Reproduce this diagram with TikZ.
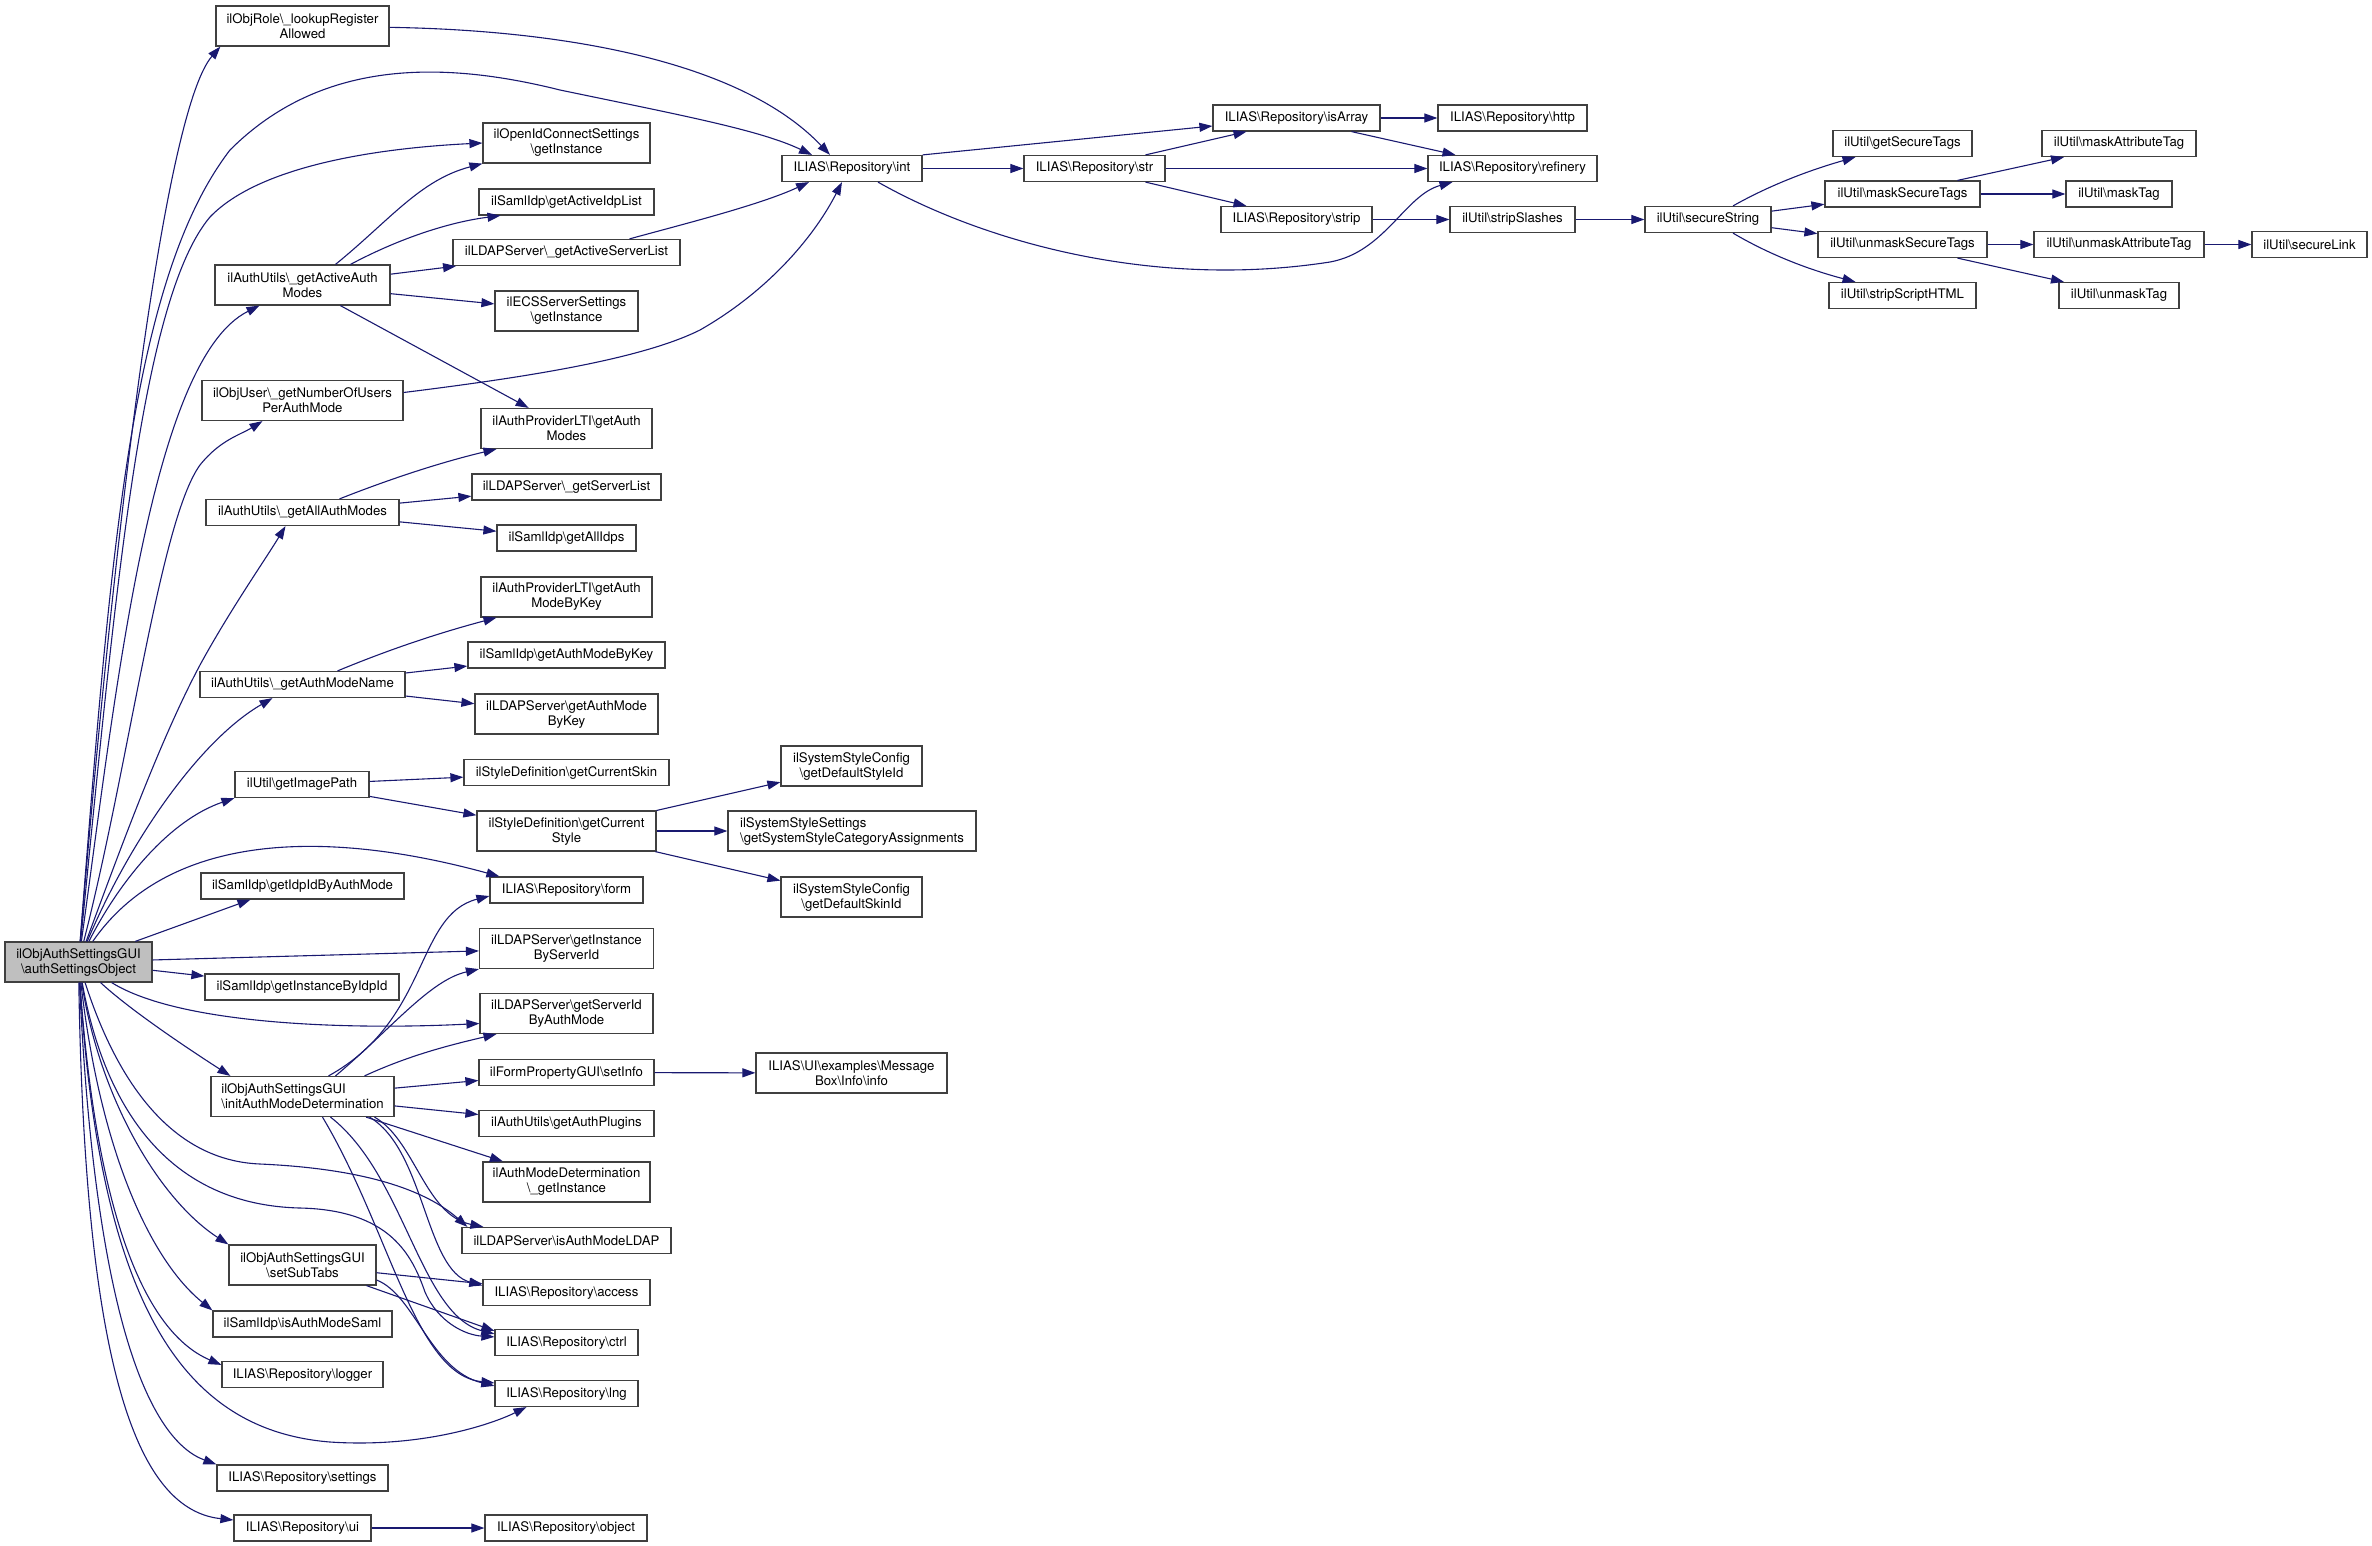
\documentclass[tikz,border=0pt]{standalone}
\usepackage{fontspec}
\setmainfont{TeX Gyre Heros}
\usetikzlibrary{arrows.meta}
\definecolor{edgeblue}{RGB}{25,25,112}
\definecolor{boxline}{RGB}{64,64,64}
\definecolor{mainfill}{RGB}{191,191,191}
\newcommand{\bsl}{\textbackslash}
\tikzset{
  fn/.style={draw=boxline, line width=1.2pt, fill=white, inner sep=0pt,
    minimum height=26pt, align=center, font=\fontsize{13.2}{15}\selectfont},
  fn2/.style={fn, minimum height=40pt},
  call/.style={draw=edgeblue, line width=1.1pt, -{Triangle[length=13pt,width=9pt]}},
}
\begin{document}
\begin{tikzpicture}[x=1pt,y=-1pt]
\useasboundingbox (0,0) rectangle (2372,1545);
% first column: the documented function
\node[fn2, fill=mainfill, minimum width=147] (auth) at (78.5,962) {ilObjAuthSettingsGUI\\\bsl authSettingsObject};
% second column
\node[fn2, minimum width=173] (role) at (302.5,26) {ilObjRole\bsl\_lookupRegister\\Allowed};
\node[fn2, minimum width=175] (actmodes) at (302.5,285) {ilAuthUtils\bsl\_getActiveAuth\\Modes};
\node[fn2, minimum width=201] (nusers) at (302.5,400.5) {ilObjUser\bsl\_getNumberOfUsers\\PerAuthMode};
\node[fn, minimum width=193] (allmodes) at (302.5,512.5) {ilAuthUtils\bsl\_getAllAuthModes};
\node[fn, minimum width=205] (modename) at (302.5,684.5) {ilAuthUtils\bsl\_getAuthModeName};
\node[fn, minimum width=134] (imgpath) at (302,784.5) {ilUtil\bsl getImagePath};
\node[fn, minimum width=203] (idpbymode) at (302.5,886) {ilSamlIdp\bsl getIdpIdByAuthMode};
\node[fn, minimum width=194] (instidp) at (302,987) {ilSamlIdp\bsl getInstanceByIdpId};
\node[fn2, minimum width=183, align=left] (initdet) at (302.5,1096.5) {ilObjAuthSettingsGUI\\\bsl initAuthModeDetermination};
\node[fn2, minimum width=147] (subtabs) at (302.5,1265) {ilObjAuthSettingsGUI\\\bsl setSubTabs};
\node[fn, minimum width=179] (issaml) at (302.5,1324) {ilSamlIdp\bsl isAuthModeSaml};
\node[fn, minimum width=161] (logger) at (302.5,1374.5) {ILIAS\bsl Repository\bsl logger};
\node[fn, minimum width=171] (settings) at (302.5,1478) {ILIAS\bsl Repository\bsl settings};
\node[fn, minimum width=137] (ui) at (302.5,1528) {ILIAS\bsl Repository\bsl ui};
% third column
\node[fn2, minimum width=167] (oidc) at (566.5,143) {ilOpenIdConnectSettings\\\bsl getInstance};
\node[fn, minimum width=175] (idplist) at (566.5,202) {ilSamlIdp\bsl getActiveIdpList};
\node[fn, minimum width=227] (actsrv) at (566.5,252.5) {ilLDAPServer\bsl\_getActiveServerList};
\node[fn2, minimum width=143] (ecs) at (566.5,311) {ilECSServerSettings\\\bsl getInstance};
\node[fn2, minimum width=171] (ltimodes) at (566.5,428.5) {ilAuthProviderLTI\bsl getAuth\\Modes};
\node[fn, minimum width=189] (srvlist) at (566.5,487) {ilLDAPServer\bsl\_getServerList};
\node[fn, minimum width=139] (allidps) at (566.5,538) {ilSamlIdp\bsl getAllIdps};
\node[fn2, minimum width=171] (ltikey) at (566.5,597) {ilAuthProviderLTI\bsl getAuth\\ModeByKey};
\node[fn, minimum width=197] (samlkey) at (566.5,655) {ilSamlIdp\bsl getAuthModeByKey};
\node[fn2, minimum width=183] (ldapkey) at (566.5,714) {ilLDAPServer\bsl getAuthMode\\ByKey};
\node[fn, minimum width=205] (curskin) at (566.5,772.5) {ilStyleDefinition\bsl getCurrentSkin};
\node[fn2, minimum width=179] (curstyle) at (566.5,831) {ilStyleDefinition\bsl getCurrent\\Style};
\node[fn, minimum width=153] (form) at (566.5,890) {ILIAS\bsl Repository\bsl form};
\node[fn2, minimum width=174] (instsrv) at (566.5,948.5) {ilLDAPServer\bsl getInstance\\ByServerId};
\node[fn2, minimum width=173] (srvid) at (566.5,1013.5) {ilLDAPServer\bsl getServerId\\ByAuthMode};
\node[fn, minimum width=175] (setinfo) at (566.5,1072.5) {ilFormPropertyGUI\bsl setInfo};
\node[fn, minimum width=175] (plugins) at (566.5,1123.5) {ilAuthUtils\bsl getAuthPlugins};
\node[fn2, minimum width=167] (detinst) at (566.5,1182) {ilAuthModeDetermination\\\bsl\_getInstance};
\node[fn, minimum width=209] (isldap) at (566.5,1240.5) {ilLDAPServer\bsl isAuthModeLDAP};
\node[fn, minimum width=167] (access) at (566.5,1292.5) {ILIAS\bsl Repository\bsl access};
\node[fn, minimum width=143] (ctrl) at (566.5,1342.5) {ILIAS\bsl Repository\bsl ctrl};
\node[fn, minimum width=143] (lng) at (566.5,1393.5) {ILIAS\bsl Repository\bsl lng};
\node[fn, minimum width=162] (object) at (566,1528) {ILIAS\bsl Repository\bsl object};
% further columns
\node[fn, minimum width=140] (int) at (852,168.5) {ILIAS\bsl Repository\bsl int};
\node[fn2, minimum width=141] (styleid) at (851.5,766) {ilSystemStyleConfig\\\bsl getDefaultStyleId};
\node[fn2, minimum width=248, align=left] (catassign) at (852,831) {ilSystemStyleSettings\\\bsl getSystemStyleCategoryAssignments};
\node[fn2, minimum width=141] (skinid) at (851.5,897) {ilSystemStyleConfig\\\bsl getDefaultSkinId};
\node[fn2, minimum width=191] (msgbox) at (851.5,1073) {ILIAS\bsl UI\bsl examples\bsl Message\\Box\bsl Info\bsl info};
\node[fn, minimum width=141] (str) at (1094.5,168.5) {ILIAS\bsl Repository\bsl str};
\node[fn, minimum width=167] (isarray) at (1296.5,118) {ILIAS\bsl Repository\bsl isArray};
\node[fn, minimum width=151] (strip) at (1296.5,219.5) {ILIAS\bsl Repository\bsl strip};
\node[fn, minimum width=149] (http) at (1512.5,118) {ILIAS\bsl Repository\bsl http};
\node[fn, minimum width=169] (refinery) at (1512.5,168.5) {ILIAS\bsl Repository\bsl refinery};
\node[fn, minimum width=125] (slashes) at (1512.5,219.5) {ilUtil\bsl stripSlashes};
\node[fn, minimum width=126] (securestr) at (1708,219.5) {ilUtil\bsl secureString};
\node[fn, minimum width=139] (gettags) at (1902.5,143.5) {ilUtil\bsl getSecureTags};
\node[fn, minimum width=155] (masktags) at (1902.5,194) {ilUtil\bsl maskSecureTags};
\node[fn, minimum width=169] (unmasktags) at (1902.5,244.5) {ilUtil\bsl unmaskSecureTags};
\node[fn, minimum width=147] (stripscript) at (1902.5,295.5) {ilUtil\bsl stripScriptHTML};
\node[fn, minimum width=154] (maskattr) at (2119,143.5) {ilUtil\bsl maskAttributeTag};
\node[fn, minimum width=106] (masktag) at (2119,194) {ilUtil\bsl maskTag};
\node[fn, minimum width=170] (unmaskattr) at (2119,244.5) {ilUtil\bsl unmaskAttributeTag};
\node[fn, minimum width=115] (securelink) at (2309.5,244.5) {ilUtil\bsl secureLink};
\node[fn, minimum width=120] (unmasktag) at (2119,295.5) {ilUtil\bsl unmaskTag};
% calls of authSettingsObject
\draw[call] (auth) .. controls (115,520) and (165,110) .. ([xshift=5]role.south west);
\draw[call] (auth) .. controls (110,560) and (130,280) .. (230,150) .. controls (320,60) and (440,60) .. (560,90) .. controls (680,115) and (760,130) .. ([xshift=-40]int.north);
\draw[call] (auth) .. controls (115,600) and (140,300) .. (210,217) .. controls (260,165) and (380,148) .. (oidc.west);
\draw[call] (auth) .. controls (115,700) and (150,360) .. ([xshift=-43]actmodes.south);
\draw[call] (auth) .. controls (130,760) and (160,520) .. (200,465) .. controls (220,440) and (240,435) .. ([xshift=-40]nusers.south);
\draw[call] (auth) .. controls (120,850) and (160,740) .. (200,665) .. controls (230,610) and (265,560) .. ([xshift=-17]allmodes.south);
\draw[call] (auth) .. controls (130,840) and (200,740) .. ([xshift=-30]modename.south);
\draw[call] (auth) .. controls (120,880) and (170,820) .. (imgpath.south west);
\draw[call] (auth) .. controls (170,830) and (330,830) .. ([xshift=10]form.north west);
\draw[call] (auth) -- ([xshift=-52]idpbymode.south);
\draw[call] (auth) -- (instsrv);
\draw[call] (auth) -- (instidp);
\draw[call] (auth) .. controls (180,1025) and (350,1030) .. ([yshift=-10]srvid.west);
\draw[call] (auth) .. controls (130,1010) and (190,1050) .. ([xshift=20]initdet.north west);
\draw[call] (auth) .. controls (110,1060) and (160,1160) .. (260,1164) .. controls (350,1168) and (420,1185) .. ([xshift=6]isldap.north west);
\draw[call] (auth) .. controls (105,1110) and (170,1205) .. (300,1208) .. controls (390,1210) and (412,1255) .. (425,1292) .. controls (438,1322) and (465,1335) .. ([yshift=-8]ctrl.north west);
\draw[call] (auth) .. controls (100,1100) and (160,1200) .. (subtabs.north west);
\draw[call] (auth) .. controls (100,1150) and (150,1260) .. (issaml.north west);
\draw[call] (auth) .. controls (95,1200) and (140,1330) .. ([yshift=-4]logger.north west);
\draw[call] (auth) .. controls (100,1300) and (180,1430) .. (330,1442) .. controls (420,1448) and (490,1425) .. ([xshift=-40]lng.south);
\draw[call] (auth) .. controls (95,1320) and (150,1440) .. (settings.north west);
\draw[call] (auth) .. controls (85,1380) and (140,1510) .. ([yshift=8]ui.west);
% second level
\draw[call] (role) .. controls (560,30) and (740,60) .. ([xshift=-22]int.north);
\draw[call] ([xshift=33]actmodes.north) .. controls (390,220) and (420,180) .. (oidc.south west);
\draw[call] ([xshift=48]actmodes.north) .. controls (400,238) and (450,222) .. ([xshift=-66]idplist.south);
\draw[call] (actmodes) -- (actsrv);
\draw[call] (actmodes) -- (ecs);
\draw[call] (actmodes) -- (ltimodes);
\draw[call] ([xshift=63]actsrv.north) .. controls (680,225) and (760,205) .. ([xshift=-43]int.south);
\draw[call] ([yshift=8]nusers.east) .. controls (520,378) and (640,360) .. (700,330) .. controls (770,290) and (815,235) .. ([xshift=-10]int.south);
\draw[call] ([xshift=37]allmodes.north) .. controls (400,475) and (450,460) .. ([xshift=-70]ltimodes.south);
\draw[call] (allmodes) -- (srvlist);
\draw[call] (allmodes) -- (allidps);
\draw[call] ([xshift=35]modename.north) .. controls (400,645) and (450,630) .. ([xshift=-70]ltikey.south);
\draw[call] (modename) -- (samlkey);
\draw[call] (modename) -- (ldapkey);
\draw[call] (imgpath) -- (curskin);
\draw[call] (imgpath) -- (curstyle);
\draw[call] (curstyle) -- (styleid);
\draw[call] (curstyle) -- (catassign);
\draw[call] (curstyle) -- (skinid);
\draw[call] ([xshift=26]initdet.north) .. controls (430,1020) and (415,915) .. ([yshift=-6]form.west);
\draw[call] ([xshift=33]initdet.north) .. controls (390,1030) and (430,980) .. (instsrv.south west);
\draw[call] ([xshift=62]initdet.north) .. controls (410,1055) and (450,1045) .. ([xshift=-70]srvid.south);
\draw[call] (initdet) -- (setinfo);
\draw[call] (initdet) -- (plugins);
\draw[call] (initdet) -- (detinst);
\draw[call] ([xshift=72]initdet.south) .. controls (415,1140) and (425,1215) .. ([xshift=22]isldap.north west);
\draw[call] ([xshift=67]initdet.south) .. controls (425,1150) and (425,1270) .. ([yshift=7]access.west);
\draw[call] ([xshift=28]initdet.south) .. controls (405,1175) and (420,1315) .. ([yshift=-5]ctrl.north west);
\draw[call] ([xshift=20]initdet.south) .. controls (390,1230) and (415,1375) .. ([yshift=-3]lng.north west);
\draw[call] (setinfo) -- (msgbox);
\draw[call] (subtabs) -- (access);
\draw[call] ([xshift=64]subtabs.south) -- ([yshift=-2]ctrl.north west);
\draw[call] ([yshift=-15]subtabs.east) .. controls (415,1295) and (430,1370) .. ([yshift=-6]lng.north west);
\draw[call] (ui) -- (object);
% repository helpers
\draw[call] (int.north east) -- ([yshift=-8]isarray.west);
\draw[call] (int) -- (str);
\draw[call] ([xshift=26]int.south) .. controls (980,240) and (1150,290) .. (1330,262) .. controls (1385,252) and (1405,195) .. ([xshift=-60]refinery.south);
\draw[call] ([xshift=51]str.north) -- ([xshift=-50]isarray.south);
\draw[call] (str) -- (refinery);
\draw[call] ([xshift=51]str.south) -- ([xshift=-50]strip.north);
\draw[call] (isarray) -- (http);
\draw[call] ([xshift=55]isarray.south) -- ([xshift=-57]refinery.north);
\draw[call] (strip) -- (slashes);
\draw[call] (slashes) -- (securestr);
% secureString
\draw[call] ([xshift=25]securestr.north) .. controls (1770,185) and (1810,170) .. ([xshift=-47]gettags.south);
\draw[call] (securestr) -- (masktags);
\draw[call] (securestr) -- (unmasktags);
\draw[call] ([xshift=25]securestr.south) .. controls (1770,255) and (1810,270) .. ([xshift=-47]stripscript.north);
\draw[call] ([xshift=55]masktags.north) -- ([xshift=-55]maskattr.south);
\draw[call] (masktags) -- (masktag);
\draw[call] (unmasktags) -- (unmaskattr);
\draw[call] ([xshift=55]unmasktags.south) -- ([xshift=-55]unmasktag.north);
\draw[call] (unmaskattr) -- (securelink);
\end{tikzpicture}
\end{document}
